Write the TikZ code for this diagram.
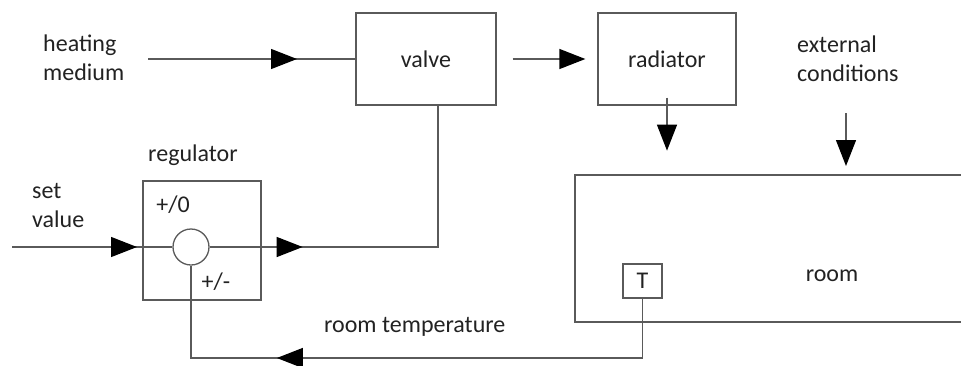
\documentclass[tikz,border=0pt]{standalone}
\usepackage{fontspec}
\setmainfont{Carlito}
\usetikzlibrary{arrows.meta,decorations.markings}
\definecolor{linegray}{HTML}{5A5A5A}
\definecolor{txt}{HTML}{222222}
\begin{document}
\begin{tikzpicture}[x=1pt,y=-1pt,
  ln/.style={draw=linegray, line width=1.3pt},
  blk/.style={ln, rectangle, inner sep=0pt, font=\fontsize{24}{29}\selectfont, text=txt},
  lbl/.style={inner sep=0pt, font=\fontsize{24}{29}\selectfont, text=txt},
  tipa/.tip={Triangle[length=26pt,width=20pt,black]},
  midarrow/.style={postaction={decorate}, decoration={markings, mark=at position #1 with {\arrow{tipa}}}}]
\useasboundingbox (0,0) rectangle (961,365);
\clip (0,0) rectangle (961,365);
% blocks
\node[blk, minimum width=140pt, minimum height=92pt] (valve) at (426,59) {valve};
\node[blk, minimum width=138pt, minimum height=92pt] (rad) at (667,59) {radiator};
\node[blk, minimum width=118pt, minimum height=119pt] (reg) at (202,240.5) {};
\node[ln, circle, inner sep=0pt, minimum size=36pt] (sum) at (191,247) {};
\node[blk, minimum width=400pt, minimum height=147pt] (room) at (775,248.5) {};
\node[blk, minimum width=39pt, minimum height=34pt] (T) at (642.5,281) {T};
% labels
\node[lbl, align=left, anchor=west] (heat) at (43,58) {heating\\medium};
\node[lbl, align=left, anchor=west] (ext) at (797,59) {external\\conditions};
\node[lbl, align=left, anchor=west] (set) at (32,205) {set\\value};
\node[lbl] (reglbl) at (193,155) {regulator};
\node[lbl] (plus0) at (173,205) {+/0};
\node[lbl] (pm) at (216,282) {+/-};
\node[lbl, anchor=west] (rt) at (324,327) {room temperature};
\node[lbl] (roomlbl) at (832,276) {room};
% coordinates
\coordinate (hin) at (148,59);
\coordinate (sin) at (12,247);
\coordinate (extc) at (846,113);
\coordinate (fb) at (0,358);
% connectors
\draw[ln, midarrow=149pt] (hin) -- (hin -| valve.west);
\draw[ln, -{tipa}] ([xshift=16pt]valve.east) -- ([xshift=-12pt]rad.west);
\draw[ln, -{tipa}] ([yshift=8pt]rad.south) -- ++(0,53);
\draw[ln, -{tipa}] (extc) -- ++(0,53);
\draw[ln, midarrow=125pt] (sin) -- (sum.west);
\draw[ln] (sum.east) -- (reg.east |- sum.east);
\draw[ln, midarrow=41pt] (reg.east |- sum.east) -- ([xshift=12pt]valve.south |- sum.east) -- ([xshift=12pt]valve.south);
\draw[ln, midarrow=425pt] (T.south) -- (T.south |- fb) -- (sum.south |- fb) -- (sum.south);
\end{tikzpicture}
\end{document}
